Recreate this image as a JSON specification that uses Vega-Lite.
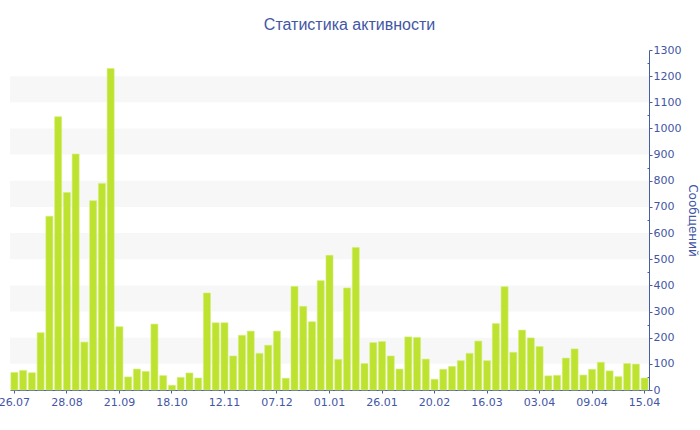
{
  "$schema": "https://vega.github.io/schema/vega-lite/v6.json",
  "width": 639,
  "height": 340,
  "autosize": "none",
  "padding": {"left": 10, "top": 50, "right": 51, "bottom": 40},
  "background": "white",
  "title": {
    "text": "Статистика активности",
    "font": "Liberation Sans",
    "fontSize": 16,
    "fontWeight": "normal",
    "color": "#4356a5",
    "anchor": "middle",
    "dx": 20,
    "offset": 11
  },
  "config": {
    "view": {"stroke": null},
    "axis": {"labelFont": "DejaVu Sans", "titleFont": "DejaVu Sans"}
  },
  "datasets": {
    "bands": [
      {"lo": 100, "hi": 200},
      {"lo": 300, "hi": 400},
      {"lo": 500, "hi": 600},
      {"lo": 700, "hi": 800},
      {"lo": 900, "hi": 1000},
      {"lo": 1100, "hi": 1200}
    ],
    "weeks": [
      {"date": "26.07", "count": 67},
      {"date": "01.08", "count": 75},
      {"date": "06.08", "count": 66},
      {"date": "12.08", "count": 219},
      {"date": "17.08", "count": 664},
      {"date": "23.08", "count": 1045},
      {"date": "28.08", "count": 755},
      {"date": "01.09", "count": 902},
      {"date": "05.09", "count": 183},
      {"date": "09.09", "count": 724},
      {"date": "13.09", "count": 790},
      {"date": "17.09", "count": 1229},
      {"date": "21.09", "count": 242},
      {"date": "25.09", "count": 50},
      {"date": "30.09", "count": 80},
      {"date": "04.10", "count": 71},
      {"date": "09.10", "count": 252},
      {"date": "13.10", "count": 55},
      {"date": "18.10", "count": 18},
      {"date": "22.10", "count": 48},
      {"date": "26.10", "count": 65},
      {"date": "31.10", "count": 46},
      {"date": "04.11", "count": 371},
      {"date": "08.11", "count": 257},
      {"date": "12.11", "count": 257},
      {"date": "16.11", "count": 130},
      {"date": "20.11", "count": 209},
      {"date": "25.11", "count": 225},
      {"date": "29.11", "count": 140},
      {"date": "03.12", "count": 171},
      {"date": "07.12", "count": 225},
      {"date": "11.12", "count": 45},
      {"date": "15.12", "count": 396},
      {"date": "20.12", "count": 320},
      {"date": "24.12", "count": 261},
      {"date": "28.12", "count": 418},
      {"date": "01.01", "count": 515},
      {"date": "05.01", "count": 117},
      {"date": "09.01", "count": 390},
      {"date": "14.01", "count": 545},
      {"date": "18.01", "count": 101},
      {"date": "22.01", "count": 181},
      {"date": "26.01", "count": 185},
      {"date": "30.01", "count": 130},
      {"date": "03.02", "count": 80},
      {"date": "08.02", "count": 203},
      {"date": "12.02", "count": 201},
      {"date": "16.02", "count": 118},
      {"date": "20.02", "count": 41},
      {"date": "24.02", "count": 79},
      {"date": "28.02", "count": 90},
      {"date": "04.03", "count": 112},
      {"date": "08.03", "count": 140},
      {"date": "12.03", "count": 187},
      {"date": "16.03", "count": 112},
      {"date": "19.03", "count": 254},
      {"date": "22.03", "count": 395},
      {"date": "25.03", "count": 144},
      {"date": "28.03", "count": 229},
      {"date": "31.03", "count": 199},
      {"date": "03.04", "count": 166},
      {"date": "04.04", "count": 54},
      {"date": "05.04", "count": 56},
      {"date": "06.04", "count": 122},
      {"date": "07.04", "count": 157},
      {"date": "08.04", "count": 57},
      {"date": "09.04", "count": 79},
      {"date": "10.04", "count": 106},
      {"date": "11.04", "count": 73},
      {"date": "12.04", "count": 51},
      {"date": "13.04", "count": 101},
      {"date": "14.04", "count": 99},
      {"date": "15.04", "count": 46}
    ]
  },
  "layer": [
    {
      "data": {"name": "bands"},
      "mark": {"type": "rect", "color": "#f7f7f7"},
      "encoding": {
        "y": {
          "field": "lo",
          "type": "quantitative",
          "scale": {"domain": [0, 1300], "nice": false},
          "axis": {
            "orient": "right",
            "title": "Сообщений",
            "titleColor": "#4356a5",
            "titleFontSize": 12,
            "titleFontWeight": "normal",
            "titlePadding": 5,
            "values": [0, 50, 100, 150, 200, 250, 300, 350, 400, 450, 500, 550, 600, 650, 700, 750, 800, 850, 900, 950, 1000, 1050, 1100, 1150, 1200, 1250, 1300],
            "format": "d",
            "labelExpr": "datum.value % 100 == 0 ? datum.label : ''",
            "labelFontSize": 11,
            "labelColor": "#4356a5",
            "labelPadding": 1,
            "domainColor": "#4a5ca8",
            "tickColor": "#4a5ca8",
            "tickSize": {"condition": {"test": "datum.value % 100 == 0", "value": 3}, "value": -2},
            "grid": false
          }
        },
        "y2": {"field": "hi"}
      }
    },
    {
      "data": {"name": "weeks"},
      "mark": {"type": "bar", "color": "#bde230", "stroke": "#d4ee74", "strokeWidth": 0.6},
      "encoding": {
        "x": {
          "field": "date",
          "type": "ordinal",
          "sort": null,
          "scale": {"paddingInner": 0.2, "paddingOuter": 0.1},
          "axis": {
            "title": null,
            "values": ["26.07", "28.08", "21.09", "18.10", "12.11", "07.12", "01.01", "26.01", "20.02", "16.03", "03.04", "09.04", "15.04"],
            "labelAngle": 0,
            "labelFontSize": 11,
            "labelColor": "#4356a5",
            "labelPadding": 3,
            "domainColor": "#4a5ca8",
            "tickColor": "#4a5ca8",
            "tickSize": 3,
            "labelOverlap": false,
            "labelBound": false
          }
        },
        "y": {
          "field": "count",
          "type": "quantitative",
          "scale": {"domain": [0, 1300], "nice": false},
          "axis": {
            "orient": "right",
            "title": "Сообщений",
            "titleColor": "#4356a5",
            "titleFontSize": 12,
            "titleFontWeight": "normal",
            "titlePadding": 5,
            "values": [0, 50, 100, 150, 200, 250, 300, 350, 400, 450, 500, 550, 600, 650, 700, 750, 800, 850, 900, 950, 1000, 1050, 1100, 1150, 1200, 1250, 1300],
            "format": "d",
            "labelExpr": "datum.value % 100 == 0 ? datum.label : ''",
            "labelFontSize": 11,
            "labelColor": "#4356a5",
            "labelPadding": 1,
            "domainColor": "#4a5ca8",
            "tickColor": "#4a5ca8",
            "tickSize": {"condition": {"test": "datum.value % 100 == 0", "value": 3}, "value": -2},
            "grid": false
          }
        }
      }
    }
  ]
}
